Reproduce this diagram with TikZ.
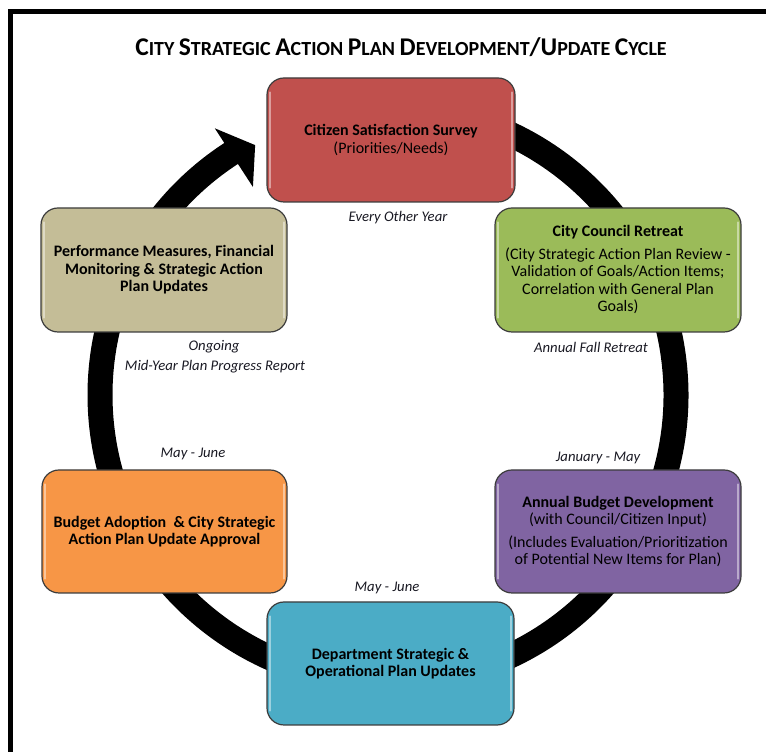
\documentclass[tikz,border=0pt]{standalone}
\usepackage{fontspec}
\setmainfont{Carlito}
\definecolor{boxedge}{RGB}{60,60,60}
\definecolor{labeltext}{RGB}{25,25,35}
\definecolor{surveyred}{RGB}{192,80,77}
\definecolor{retreatgreen}{RGB}{155,187,89}
\definecolor{measuretan}{RGB}{196,189,151}
\definecolor{adoptorange}{RGB}{247,150,70}
\definecolor{budgetpurple}{RGB}{128,100,162}
\definecolor{deptblue}{RGB}{75,172,198}
% small caps built from two sizes of capitals
\newcommand{\capword}[2]{{\fontsize{25.5}{28}\selectfont #1}{\fontsize{20}{28}\selectfont #2}}
\begin{document}
\begin{tikzpicture}[x=1pt,y=1pt,
  stagebox/.style={draw=boxedge, line width=1.2pt, rounded corners=17pt,
    minimum width=246pt, minimum height=124pt, inner sep=0pt, align=center,
    font=\fontsize{16}{17.5}\selectfont, text=black},
  gloss/.style={white, opacity=0.45, line width=2pt, line cap=round},
  timing/.style={font=\fontsize{14.7}{16}\selectfont\itshape, text=labeltext, inner sep=0pt},
  ring/.style={line width=25pt, black},
]
\useasboundingbox (0,0) rectangle (766,752);

% page frame (top and left edges)
\draw[line width=5pt, line join=miter] (766,740.8) -- (10.8,740.8) -- (10.8,0);

% title
\node[font=\bfseries\fontsize{20}{28}\selectfont, text=black] (title) at (401,705)
  {\capword{C}{ITY} \capword{S}{TRATEGIC} \capword{A}{CTION} \capword{P}{LAN} \capword{D}{EVELOPMENT}\capword{/}{}\capword{U}{PDATE} \capword{C}{YCLE}};

% circular arrow behind the stages
\coordinate (hub) at (388,357);
\draw[ring] ([shift={(hub)}]95:288) arc[start angle=95, end angle=-238, radius=288];
\fill[black] ([shift={(hub)}]123:318) -- ([shift={(hub)}]118:283) -- ([shift={(hub)}]123:248) -- cycle;

% stages of the cycle
\node[stagebox, fill=surveyred, minimum width=248pt] (survey) at (391,612)
  {\textbf{Citizen Satisfaction Survey}\\(Priorities/Needs)};
\node[stagebox, fill=retreatgreen] (retreat) at (618,482)
  {\textbf{City Council Retreat}\\[5pt](City Strategic Action Plan Review -\\Validation of Goals/Action Items;\\Correlation with General Plan\\Goals)};
\node[stagebox, fill=measuretan] (measures) at (164,482)
  {\textbf{Performance Measures, Financial}\\\textbf{Monitoring \& Strategic Action}\\\textbf{Plan Updates}};
\node[stagebox, fill=adoptorange, minimum width=245pt, minimum height=123pt] (adoption) at (164.5,220.5)
  {\textbf{Budget Adoption\ \ \& City Strategic}\\\textbf{Action Plan Update Approval}};
\node[stagebox, fill=budgetpurple, minimum height=123pt] (budget) at (618,220.5)
  {\textbf{Annual Budget Development}\\(with Council/Citizen Input)\\[5pt](Includes Evaluation/Prioritization\\of Potential New Items for Plan)};
\node[stagebox, fill=deptblue, minimum width=247pt, minimum height=123pt] (dept) at (390.5,88.5)
  {\textbf{Department Strategic \&}\\\textbf{Operational Plan Updates}};

% glossy rims on the box sides
\foreach \b in {survey,retreat,measures,adoption,budget,dept}{
  \draw[gloss] ([xshift=4pt,yshift=-15pt]\b.north west) -- ([xshift=4pt,yshift=15pt]\b.south west);
  \draw[gloss] ([xshift=-4pt,yshift=-15pt]\b.north east) -- ([xshift=-4pt,yshift=15pt]\b.south east);
}

% timing notes
\node[timing] (t1) at (398,534) {Every Other Year};
\node[timing] (t2) at (591,405) {Annual Fall Retreat};
\node[timing] (t3) at (214,405) {Ongoing};
\node[timing] (t4) at (215,385) {Mid-Year Plan Progress Report};
\node[timing] (t5) at (193,298) {May - June};
\node[timing] (t6) at (598,294) {January - May};
\node[timing] (t7) at (387,164) {May - June};
\end{tikzpicture}
\end{document}
